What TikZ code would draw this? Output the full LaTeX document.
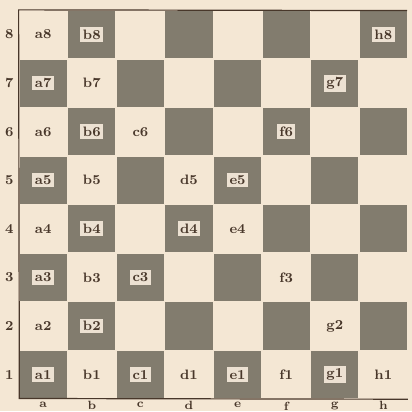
\documentclass[tikz,border=0pt]{standalone}
\usetikzlibrary{positioning}
\definecolor{paper}{RGB}{244,231,212}
\definecolor{boardgrey}{RGB}{130,124,110}
\definecolor{ink}{RGB}{72,55,42}
\definecolor{tagfill}{RGB}{236,225,210}
\begin{document}
\begin{tikzpicture}[
			% Define styles
			lightbox/.style={rectangle, minimum size=1cm, inner sep=0pt},
			darkbox/.style={rectangle, fill=boardgrey, minimum size=0.97cm, inner sep=0pt},
			lightlab/.style={font=\footnotesize\bfseries, text=ink, inner sep=1pt},
			darklab/.style={font=\footnotesize\bfseries, text=ink, fill=tagfill, inner sep=1.5pt},
			edgelab/.style={font=\footnotesize\bfseries, text=ink, inner sep=0pt}
			]
			
			% Paper and picture size
			\fill[paper] (-0.39,-0.25) rectangle (8.09,8.21);
			\useasboundingbox (-0.39,-0.25) rectangle (8.09,8.21);
			
			% Squares of the board
			\foreach \f [count=\i] in {a,b,c,d,e,f,g,h} {
				\foreach \r in {1,...,8} {
					\pgfmathtruncatemacro{\sqparity}{mod(\i+\r,2)}
					\ifnum\sqparity=0
						\node[darkbox] (\f\r) at (\i-0.5,\r-0.5) {};
					\else
						\node[lightbox] (\f\r) at (\i-0.5,\r-0.5) {};
					\fi
				}
			}
			
			% Frame of the board
			\draw[ink, line width=0.7pt] (h8.north east) -- (a8.north west) -- (a1.south west) -- (h1.south east);
			
			% Rank numbers and file letters
			\foreach \r in {1,...,8}
				\node[edgelab] (r\r) at (-0.2,\r-0.5) {\r};
			\foreach \f [count=\i] in {a,b,c,d,e,f,g,h}
				\node[edgelab, font=\scriptsize\bfseries, anchor=north] (f\f) at (\i-0.5,-0.05) {\f};
			
			% Names on light squares
			\foreach \s in {a8,b7,a6,c6,b5,d5,a4,e4,b3,f3,a2,g2,b1,d1,f1,h1}
				\node[lightlab] (t\s) at (\s) {\s};
			
			% Names on dark squares
			\foreach \s in {b8,h8,a7,g7,b6,f6,a5,e5,b4,d4,a3,c3,b2,a1,c1,e1,g1}
				\node[darklab] (t\s) at (\s) {\s};
			
		\end{tikzpicture}
\end{document}
